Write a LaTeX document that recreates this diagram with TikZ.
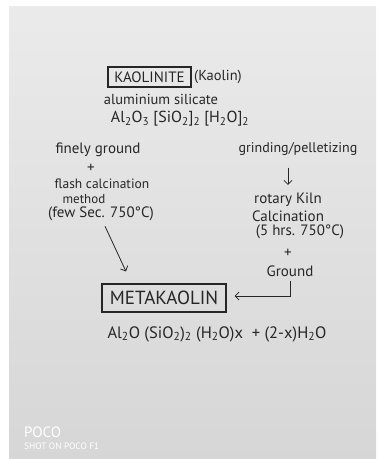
\documentclass[tikz,border=0pt]{standalone}
\usepackage{fontspec}
\setmainfont{PT Sans}
\usetikzlibrary{arrows.meta}
\newcommand{\lo}[1]{\textsubscript{#1}}

\begin{document}
\begin{tikzpicture}[x=1pt,y=1pt,
  txt/.style={inner sep=0pt,text=black!85,font=\fontsize{15}{17}\selectfont},
  tag/.style={draw=black!85,line width=1.1pt,inner sep=0pt,text=black!85},
  arr/.style={draw=black!85,line width=0.8pt,-{Straight Barb[length=4pt,width=8pt]}},
  stamp/.style={inner sep=0pt,text=white,anchor=west}]
\useasboundingbox (0,0) rectangle (378,-459);
\fill[white] (0,0) rectangle (378,-459);
\shade[top color=gray!16,bottom color=gray!32] (9,-6) rectangle (376,-458);
\node[tag,minimum width=83,minimum height=20,font=\fontsize{15}{17}\selectfont] (kao) at (149.5,-77) {KAOLINITE};
\node[txt,anchor=west,font=\fontsize{14.5}{17}\selectfont] (kaolin) at (194,-77) {(Kaolin)};
\node[txt,font=\fontsize{14.5}{17}\selectfont] (alu) at (161,-99) {aluminium silicate};
\node[txt,font=\fontsize{16}{18}\selectfont] (frm) at (180,-119) {Al\lo2O\lo3 [SiO\lo2]\lo2 [H\lo2O]\lo2};
\node[txt] (fine) at (98,-150) {finely ground};
\node[txt] (plusa) at (91,-168) {+};
\node[txt,font=\fontsize{13.5}{16}\selectfont] (flash) at (102,-184) {flash calcination};
\node[txt,font=\fontsize{13}{15}\selectfont] (meth) at (84,-199) {method};
\node[txt] (few) at (101,-214) {(few Sec. 750°C)};
\node[txt,font=\fontsize{14}{16}\selectfont] (grind) at (298,-149) {grinding/pelletizing};
\node[txt] (rot) at (288,-200) {rotary Kiln};
\node[txt] (calc) at (288,-216) {Calcination};
\node[txt] (hrs) at (300,-232) {(5 hrs. 750°C)};
\node[txt] (plusb) at (288,-253) {+};
\node[txt] (gnd) at (290,-271) {Ground};
\node[tag,minimum width=124,minimum height=28,font=\fontsize{19}{21}\selectfont] (meta) at (164,-298) {METAKAOLIN};
\node[txt,font=\fontsize{16.5}{19}\selectfont] (mfrm) at (217,-334) {Al\lo2O (SiO\lo2)\lo2 (H\lo2O)x \ + (2-x)H\lo2O};
\node[stamp,font=\fontsize{15}{17}\selectfont] (poco) at (24,-432) {POCO};
\node[stamp,font=\fontsize{9.3}{11}\selectfont] (shot) at (24,-446) {SHOT ON POCO F1};
\draw[arr,shorten <=12pt,shorten >=8pt] (grind.south -| rot.north) -- (rot.north);
\draw[arr] ([xshift=4pt,yshift=-5pt]few.south) -- ([xshift=-38pt,yshift=12pt]meta.north);
\draw[arr] ([yshift=-4pt]gnd.south) |- ([xshift=8pt,yshift=2pt]meta.east);
\end{tikzpicture}
\end{document}
